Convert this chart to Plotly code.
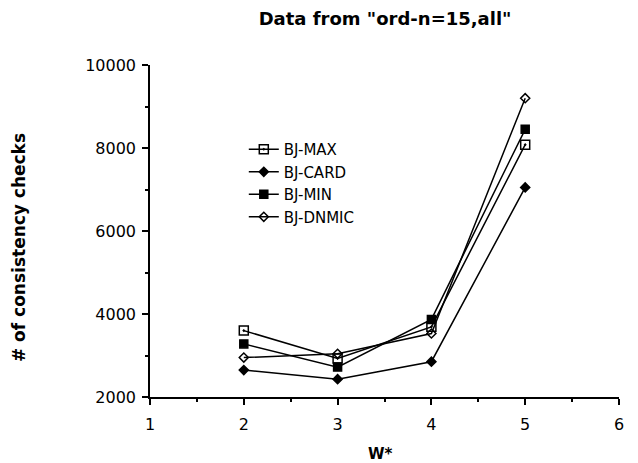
import plotly.graph_objects as go

x_vals = [2, 3, 4, 5]
bj_max = [3600, 2930, 3690, 8080]
bj_card = [2650, 2430, 2850, 7050]
bj_min = [3280, 2720, 3870, 8450]
bj_dnmic = [2950, 3040, 3530, 9200]

y_ticks = [2000, 4000, 6000, 8000, 10000]
x_ticks = [1, 2, 3, 4, 5, 6]

series = [
    ("BJ-MAX", bj_max, "square-open-dot", 9),
    ("BJ-CARD", bj_card, "diamond", 7),
    ("BJ-MIN", bj_min, "square", 8),
    ("BJ-DNMIC", bj_dnmic, "diamond-open", 7),
]

fig = go.Figure()
for name, vals, sym, sz in series:
    fig.add_trace(go.Scatter(
        x=x_vals, y=vals, name=name, mode="lines+markers",
        line=dict(color="black", width=1.5),
        marker=dict(symbol=sym, size=sz, color="black",
                    line=dict(color="black", width=1.5)),
    ))

font = "DejaVu Sans"
fig.update_layout(
    width=638, height=463,
    margin=dict(l=142, r=27, t=57, b=74),
    plot_bgcolor="white", paper_bgcolor="white",
    title=dict(text="<b>Data from \"ord-n=15,all\"</b>", x=0.591, xanchor="center",
               y=0.978, yanchor="middle", font=dict(family=font, size=18, color="black")),
    font=dict(family=font, size=16, color="black"),
    legend=dict(x=0.2, y=0.795, xanchor="left", yanchor="top",
                bgcolor="rgba(0,0,0,0)", font=dict(size=15), tracegroupgap=3),
    xaxis=dict(range=[1, 6], tickvals=x_ticks, ticks="outside",
               ticklen=6, tickwidth=1.5, tickcolor="black", showline=True,
               linecolor="black", linewidth=1.5, showgrid=False, zeroline=False,
               ticklabelstandoff=6,
               minor=dict(dtick=0.5, ticks="outside", ticklen=3, tickcolor="black")),
    yaxis=dict(range=[2000, 10000], tickvals=y_ticks, ticktext=[str(v) for v in y_ticks],
               ticks="outside", ticklen=6, tickwidth=1.5, tickcolor="black",
               showline=True, linecolor="black", linewidth=1.5, showgrid=False,
               zeroline=False, ticklabelstandoff=3,
               minor=dict(dtick=1000, ticks="outside", ticklen=3, tickcolor="black")),
    annotations=[
        dict(text="<b># of consistency checks</b>", xref="paper", yref="paper",
             x=-0.279, y=0.449, textangle=-90, showarrow=False,
             xanchor="center", yanchor="middle", font=dict(size=17)),
        dict(text="<b>W*</b>", xref="paper", yref="paper",
             x=0.4925, y=-0.172, showarrow=False,
             xanchor="center", yanchor="middle", font=dict(size=15)),
    ],
)

fig.write_html("out.html")
